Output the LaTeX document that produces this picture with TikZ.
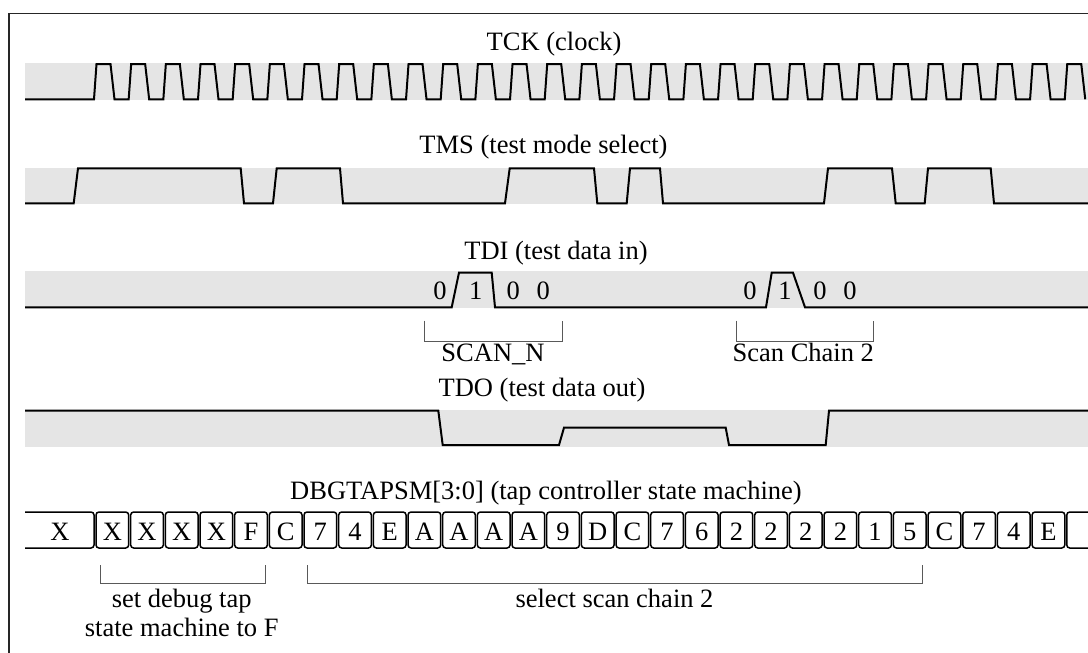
\documentclass[tikz,border=0pt]{standalone}
\usepackage{fontspec}
\setmainfont{Liberation Serif}
\begin{document}
\begin{tikzpicture}[x=1pt,y=-1pt,
  lbl/.style={font=\fontsize{26.5}{30}\selectfont, inner sep=0pt, anchor=base},
  wave/.style={draw=black, line width=2pt, line join=miter},
  band/.style={fill=black!10},
  frame/.style={draw=black!85, line width=1.4pt},
  buscell/.style={draw=black, line width=1.5pt, rounded corners=3pt},
  bracketline/.style={draw=black!65, line width=0.9pt}]
\def\clkzero{95}
\def\clkper{34.67}
\useasboundingbox (0,0) rectangle (1088,653);
\begin{scope}
\clip (0,0) rectangle (1088,653);
% outer frame
\draw[frame] (9,13.3) rectangle (1200,800);
% signal bands
\fill[band] (25,63) rectangle (1100,100);
\fill[band] (25,167.5) rectangle (1100,204);
\fill[band] (25,271) rectangle (1100,308);
\fill[band] (25,410) rectangle (1100,446.5);

% TCK
\node[lbl] (tck) at (554,50.5) {TCK (clock)};
\draw[wave] (25,99.3) foreach \k in {0,...,28} {
  -- ({\clkzero+\clkper*\k-1},99.3) -- ({\clkzero+\clkper*\k+1.5},64)
  -- ({\clkzero+\clkper*\k+15.5},64) -- ({\clkzero+\clkper*\k+19.5},99.3) };

% TMS
\node[lbl] (tms) at (543.5,153.5) {TMS (test mode select)};
\draw[wave] (25,203.3) -- (73.7,203.3) -- (78,168.3) -- (240.7,168.3) -- (244,203.3)
  -- (273,203.3) -- (276.7,168.3) -- (340,168.3) -- (343,203.3)
  -- (505,203.3) -- (509.7,168.3) -- (594,168.3) -- (597.3,203.3)
  -- (626.7,203.3) -- (630,168.3) -- (660,168.3) -- (663,203.3)
  -- (824,203.3) -- (828,168.3) -- (892,168.3) -- (895.7,203.3)
  -- (924.7,203.3) -- (928,168.3) -- (990.7,168.3) -- (994,203.3) -- (1100,203.3);

% TDI
\node[lbl] (tdi) at (556,259.3) {TDI (test data in)};
\draw[wave] (25,307.3) -- (451.7,307.3) -- (459,272.7) -- (491.7,272.7) -- (495,307.3)
  -- (766,307.3) -- (771.7,272.7) -- (793,272.7) -- (805,307.3) -- (1100,307.3);
\foreach \xx/\bit [count=\i] in {440/0,475.7/1,513.3/0,543.3/0,750/0,785/1,820/0,850/0}
  \node[lbl] (bit\i) at (\xx,299.3) {\bit};

% TDI brackets
\coordinate (sa) at (424,320.7);  \coordinate (sb) at (562.7,320.7);
\coordinate (ca) at (736,320.7);  \coordinate (cb) at (873.3,320.7);
\draw[bracketline] (sa) -- ++(0,20.3) -| (sb);
\draw[bracketline] (ca) -- ++(0,20.3) -| (cb);
\node[lbl] (scann) at (493,361) {SCAN\_N};
\node[lbl] (scanc) at (803.3,361) {Scan Chain 2};

% TDO
\node[lbl] (tdo) at (542,396.7) {TDO (test data out)};
\draw[wave] (25,410.7) -- (438.3,410.7) -- (442.7,445) -- (559,445) -- (564,427.7)
  -- (725.7,427.7) -- (729,445) -- (825.7,445) -- (829,410.7) -- (1100,410.7);

% DBGTAPSM bus
\node[lbl] (bus) at (546,499) {DBGTAPSM[3:0] (tap controller state machine)};
\draw[buscell] (25,512) -- ({\clkzero-1},512) -- ({\clkzero-1},548) -- (25,548);
\node[lbl] (cellx) at (60,540) {X};
\foreach \lab [count=\k from 0] in {X,X,X,X,F,C,7,4,E,A,A,A,A,9,D,C,7,6,2,2,2,2,1,5,C,7,4,E} {
  \pgfmathsetmacro\xa{\clkzero+\clkper*\k+1}
  \pgfmathsetmacro\xb{\clkzero+\clkper*(\k+1)-1}
  \draw[buscell] (\xa,512) rectangle (\xb,548);
  \node[lbl] (cell\k) at ({(\xa+\xb)/2},540) {\lab};
}
\draw[buscell] (1100,512) -- ({\clkzero+\clkper*28+1},512) -- ({\clkzero+\clkper*28+1},548) -- (1100,548);

% bus brackets
\coordinate (da) at (100,565);  \coordinate (db) at (265.7,565);
\coordinate (ea) at (307.3,565); \coordinate (eb) at (922.3,565);
\draw[bracketline] (da) -- ++(0,18.3) -| (db);
\draw[bracketline] (ea) -- ++(0,18.3) -| (eb);
\node[lbl] (dbg1) at (181.7,607) {set debug tap};
\node[lbl] (dbg2) at (181.7,636) {state machine to F};
\node[lbl] (sel) at (614.5,607) {select scan chain 2};
\end{scope}
\end{tikzpicture}
\end{document}
